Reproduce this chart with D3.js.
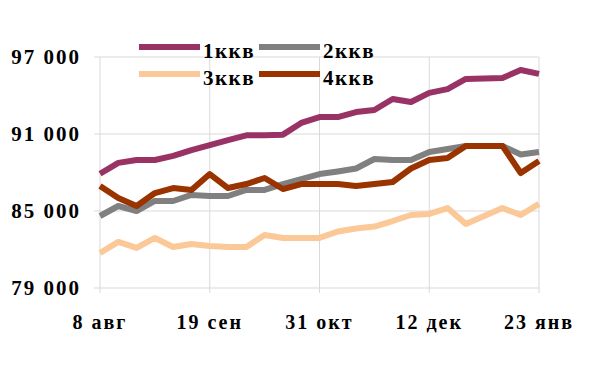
<!DOCTYPE html>
<html><head><meta charset="utf-8">
<script src="https://cdn.jsdelivr.net/npm/d3@7"></script>
<style>
body{margin:0;background:#fff;}
text{font-family:"Liberation Serif","Times New Roman",serif;font-weight:bold;}
</style></head>
<body><svg id="c" width="592" height="369"></svg>
<script>
const weeks = d3.range(25);
const xTickIdx = [0, 6, 12, 18, 24];
const xTickLabels = ["8 авг", "19 сен", "31 окт", "12 дек", "23 янв"];
const yTicks = [79000, 85000, 91000, 97000];
const seriesNames = ["1ккв", "2ккв", "3ккв", "4ккв"];
const seriesColors = ["#993366", "#808080", "#fbc898", "#993300"];
const q1 = [87900, 88750, 88970, 88970, 89290, 89750, 90140, 90530, 90900, 90900, 90950, 91860, 92320, 92320, 92710, 92870, 93730, 93490, 94200, 94500, 95290, 95320, 95360, 95990, 95680];
const q2 = [84610, 85390, 85000, 85780, 85780, 86250, 86170, 86170, 86640, 86640, 87100, 87490, 87880, 88080, 88310, 89050, 88970, 88970, 89600, 89830, 90070, 90070, 90070, 89400, 89600];
const q3 = [81730, 82590, 82120, 82900, 82200, 82430, 82270, 82200, 82200, 83130, 82900, 82900, 82900, 83400, 83640, 83790, 84220, 84690, 84770, 85230, 83990, 84610, 85230, 84690, 85550];
const q4 = [86950, 86010, 85390, 86400, 86790, 86640, 87880, 86790, 87100, 87570, 86710, 87100, 87100, 87100, 86950, 87100, 87260, 88310, 88970, 89130, 90070, 90070, 90070, 87960, 88900];
const data = [q1, q2, q3, q4];

const svg = d3.select("#c");
const x = d3.scaleLinear().domain([0, 24]).range([100, 539]);
const y = d3.scaleLinear().domain([79000, 97000]).range([288, 57]);
const fmt = v => d3.format(",")(v).replace(",", " ");

// gridlines
const gy = svg.append("g").attr("transform", "translate(0,0)")
  .call(d3.axisLeft(y).tickValues(yTicks).tickSize(0).tickFormat(""));
gy.select(".domain").remove();
svg.append("g").selectAll("line").data(yTicks).join("line")
  .attr("x1", 94).attr("x2", 539).attr("y1", d => y(d)).attr("y2", d => y(d))
  .attr("stroke", "#d9d9d9").attr("stroke-width", 1);
svg.append("g").selectAll("line").data(xTickIdx).join("line")
  .attr("x1", d => x(d)).attr("x2", d => x(d)).attr("y1", y(97000)).attr("y2", y(79000) + 5)
  .attr("stroke", "#d9d9d9").attr("stroke-width", 1);

// y labels
svg.append("g").selectAll("text").data(yTicks).join("text")
  .attr("x", 81).attr("y", d => y(d) + 7).attr("text-anchor", "end")
  .attr("font-size", 21).attr("letter-spacing", 2).attr("fill", "#000")
  .text(d => fmt(d));

// x labels
svg.append("g").selectAll("text").data(xTickIdx).join("text")
  .attr("x", (d, i) => x(d)).attr("y", 329).attr("text-anchor", "middle")
  .attr("font-size", 20).attr("letter-spacing", 2).attr("fill", "#000")
  .text((d, i) => xTickLabels[i]);

// lines
const line = d3.line().x((d, i) => x(i)).y(d => y(d));
svg.append("g").selectAll("path").data(data).join("path")
  .attr("d", d => line(d)).attr("fill", "none")
  .attr("stroke", (d, i) => seriesColors[i]).attr("stroke-width", 6)
  .attr("stroke-linejoin", "round");

// legend
const lg = svg.append("g");
const pos = [[139, 47], [259, 47], [139, 74], [259, 74]];
seriesNames.forEach((n, i) => {
  const [lx, ly] = pos[i];
  lg.append("line").attr("x1", lx).attr("x2", lx + 61).attr("y1", ly).attr("y2", ly)
    .attr("stroke", seriesColors[i]).attr("stroke-width", 6);
  lg.append("text").attr("x", lx + 64).attr("y", ly + 11).attr("font-size", 21)
    .attr("letter-spacing", 1.5).attr("fill", "#000").text(n);
});
</script></body></html>
